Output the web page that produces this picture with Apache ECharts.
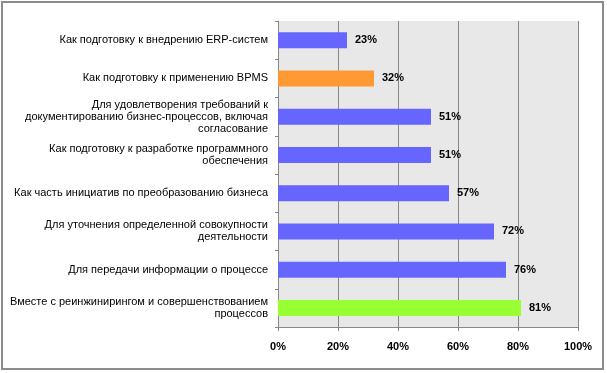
<!DOCTYPE html>
<html><head><meta charset="utf-8">
<script src="https://cdn.jsdelivr.net/npm/echarts@6/dist/echarts.min.js"></script>
<style>html,body{margin:0;padding:0;background:#fff}#c{width:607px;height:373px}
#frame{position:absolute;left:1px;top:1px;width:603px;height:369px;border:2px solid #8c8c8c;box-sizing:border-box;pointer-events:none}</style>
</head><body><div id="c"></div><div id="frame"></div>
<script>
const categories = [
  "Как подготовку к внедрению ERP-систем",
  "Как подготовку к применению BPMS",
  "Для удовлетворения требований к\nдокументированию бизнес-процессов, включая\nсогласование",
  "Как подготовку к разработке программного\nобеспечения",
  "Как часть инициатив по преобразованию бизнеса",
  "Для уточнения определенной совокупности\nдеятельности",
  "Для передачи информации о процессе",
  "Вместе с реинжинирингом и совершенствованием\nпроцессов"
];
const values = [23, 32, 51, 51, 57, 72, 76, 81];
const barColors = ["#6666FF", "#FF9933", "#6666FF", "#6666FF", "#6666FF", "#6666FF", "#6666FF", "#99FF33"];
const xTicks = [0, 20, 40, 60, 80, 100];

const chart = echarts.init(document.getElementById('c'));
chart.setOption({
  animation: false,
  grid: { left: 278, right: 29, top: 21, bottom: 46, show: true, backgroundColor: '#e8e8e8', borderWidth: 0 },
  xAxis: {
    type: 'value', min: xTicks[0], max: xTicks[xTicks.length - 1], interval: xTicks[1] - xTicks[0],
    axisLine: { show: true, lineStyle: { color: '#888', width: 1 } },
    axisTick: { show: true, length: 4, lineStyle: { color: '#888' } },
    splitLine: { show: true, lineStyle: { color: '#888', width: 1 } },
    axisLabel: { formatter: v => v + '%', fontFamily: 'Liberation Sans', fontWeight: 'bold', fontSize: 11, color: '#000', margin: 14 }
  },
  yAxis: {
    type: 'category', data: categories, inverse: true,
    axisLine: { show: true, lineStyle: { color: '#888', width: 1 } },
    axisTick: { show: true, length: 3, lineStyle: { color: '#888' } },
    axisLabel: { fontFamily: 'Liberation Sans', fontSize: 11, color: '#000', margin: 10, lineHeight: 12, align: 'right' }
  },
  series: [{
    type: 'bar', barWidth: 16,
    data: values.map((v, i) => ({ value: v, itemStyle: { color: barColors[i] } })),
    label: { show: true, position: 'right', distance: 8, formatter: p => p.value + '%', fontFamily: 'Liberation Sans', fontWeight: 'bold', fontSize: 11, color: '#000' }
  }]
});
</script></body></html>
